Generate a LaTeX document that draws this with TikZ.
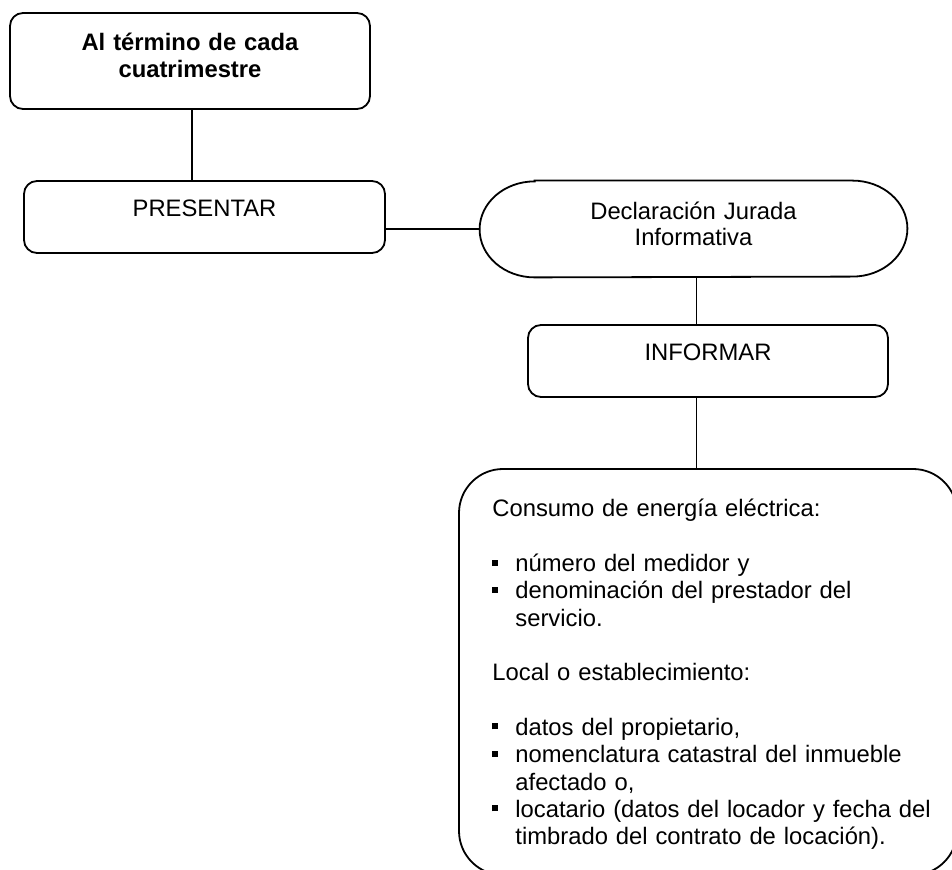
\documentclass[tikz,border=0pt]{standalone}
\usepackage{fontspec}
\setmainfont{Liberation Sans}
\newcommand{\sqbul}{\makebox[11.5pt][l]{\rule[3pt]{3pt}{3pt}}}
\newcommand{\sqind}{\hspace*{11.5pt}}
\begin{document}
\begin{tikzpicture}
[x=0.5pt,y=-0.5pt,
  font=\fontsize{11.9}{13.65}\selectfont,
  boxDecorate/.style={draw,line width=0.9pt,rounded corners=6.5pt,inner sep=0pt},
  verbDecorate/.style={boxDecorate,text height=18pt,text depth=18pt,minimum width=180pt},
  lineDecorate/.style={-,line width=0.6pt},
  textDecorate/.style={inner sep=0pt,anchor=base}]
\useasboundingbox (0,0) rectangle (952,870);
\clip (0,0) rectangle (952,870);
%% boxes
\node (cuatri) at (190,61) [boxDecorate,minimum width=180pt,minimum height=48pt] {};
\node (presentar) at (204.5,217) [verbDecorate,minimum width=180.5pt] {PRESENTAR};
\node (ddjj) at (693.5,229) [inner sep=0pt,minimum width=213.5pt,minimum height=48pt] {};
\draw[line width=0.9pt] ([xshift=27.5pt]ddjj.north west) -- ([xshift=-27.5pt]ddjj.north east)
  arc[start angle=90,end angle=-90,x radius=27.5pt,y radius=24pt]
  -- ([xshift=27.5pt]ddjj.south west)
  arc[start angle=270,end angle=90,x radius=27.5pt,y radius=24pt] -- cycle;
\node (informar) at (708,361) [verbDecorate] {INFORMAR};
\node (datos) at (708,672) [boxDecorate,rounded corners=22pt,minimum width=249pt,minimum height=203pt] {};
%% texts
\node (cuatritxt) at (190,51) [textDecorate,text width=170pt,align=center,
  font=\bfseries\fontsize{11.9}{13.5}\selectfont] {Al término de cada\\cuatrimestre};
\node (ddjjtxt) at (693.5,220) [textDecorate,text width=200pt,align=center,
  font=\fontsize{11.9}{13}\selectfont] {Declaración Jurada\\Informativa};
\node (datostxt) at (492,517) [textDecorate,anchor=base west,text width=230pt,align=left]
{Consumo de energía eléctrica:\\[13.65pt]
\sqbul número del medidor y\\
\sqbul denominación del prestador del\\
\sqind servicio.\\[13.65pt]
Local o establecimiento:\\[13.65pt]
\sqbul datos del propietario,\\
\sqbul nomenclatura catastral del inmueble\\
\sqind afectado o,\\
\sqbul locatario (datos del locador y fecha del\\
\sqind timbrado del contrato de locación).};
%% connectors
\draw[lineDecorate] ([xshift=1pt]cuatri.south) -- ([xshift=1pt]cuatri.south |- presentar.north);
\draw[lineDecorate] (ddjj.west -| presentar.east) -- (ddjj.west);
\draw[lineDecorate] ([xshift=1.5pt]ddjj.south) -- ([xshift=1.5pt]ddjj.south |- informar.north);
\draw[lineDecorate] ([xshift=1.5pt]ddjj.south |- informar.south) -- ([xshift=1.5pt]ddjj.south |- datos.north);
\end{tikzpicture}
\end{document}
